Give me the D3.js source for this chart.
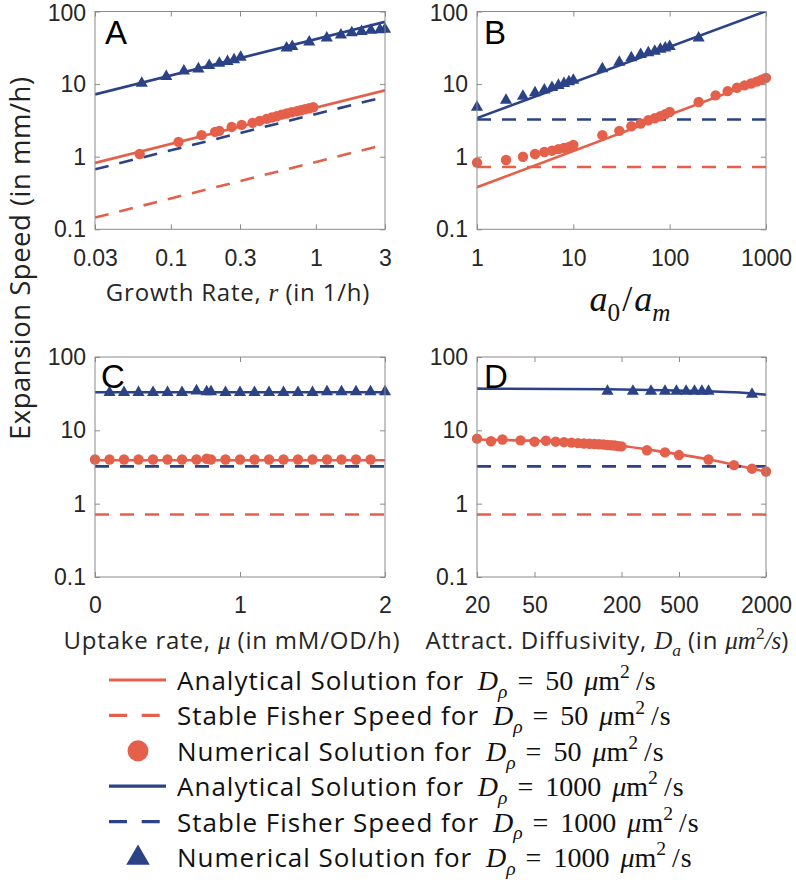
<!DOCTYPE html>
<html><head><meta charset="utf-8">
<script src="https://cdn.jsdelivr.net/npm/d3@7/dist/d3.min.js"></script>
<style>body{margin:0;background:#fff}svg{display:block}</style>
</head><body>
<svg id="chart" width="796" height="880"></svg>
<script>
// ---------------- DATA ----------------
const yTicks = [0.1, 1, 10, 100];
const yTickLabels = ["0.1", "1", "10", "100"];

// Panel A : growth rate
const A_xTicks = [0.03, 0.1, 0.3, 1, 3];
const A_xTickLabels = ["0.03", "0.1", "0.3", "1", "3"];
const A_lineX = [0.03, 3];
const A_anaRed = [0.82, 8.2];
const A_anaBlue = [7.2, 72];
const A_fisherRed = [0.145, 1.47];
const A_fisherBlue = [0.67, 6.7];
const A_numRedX = [0.061,0.113,0.163,0.202,0.216,0.263,0.308,0.366,0.41,0.458,0.496,0.537,0.581,0.629,0.68,0.74,0.787,0.84,0.90,0.96];
const A_numRedY = [1.09,1.6,1.98,2.2,2.27,2.57,2.74,2.92,3.11,3.32,3.46,3.61,3.80,3.93,4.09,4.22,4.36,4.5,4.65,4.8];
const A_numBlueX = [0.063,0.093,0.123,0.155,0.184,0.216,0.246,0.273,0.303,0.629,0.688,0.901,1.19,1.49,1.77,2.07,2.40,2.77,3.0];
const A_numBlueY = [10.3,12.7,15.1,16.2,18.0,19.4,20.5,21.6,23.4,31.5,33,38,43,47.5,51,53,55,56,57];

// Panel B : a0/am
const B_xTicks = [1, 10, 100, 1000];
const B_xTickLabels = ["1", "10", "100", "1000"];
const B_lineX = [1, 1000];
const B_anaRed = [0.38, 12];
const B_anaBlue = [3.4, 101];
const B_fisherRed = [0.72, 0.72];
const B_fisherBlue = [3.25, 3.25];
const B_numRedX = [1,2,3,4,5,6,7,8,9,10,20,30,40,50,60,70,80,90,100,200,300,400,500,600,700,800,900,1000];
const B_numRedY = [0.83,0.90,1.0,1.09,1.16,1.21,1.27,1.32,1.36,1.45,1.98,2.27,2.63,2.87,3.18,3.39,3.61,3.85,4.13,5.67,7.0,8.0,8.9,9.6,10.2,10.8,11.5,12.2];
const B_numBlueX = [1,2,3,4,5,6,7,8,9,10,20,30,40,50,60,70,80,90,100,200];
const B_numBlueY = [4.8,6.0,6.8,7.6,8.3,9.0,9.6,10.2,10.8,11.3,16.3,20,23,25.5,27,28.3,30.2,31.5,33,43];

// Panel C : uptake rate
const C_xTicks = [0, 1, 2];
const C_xTickLabels = ["0", "1", "2"];
const C_lineX = [0, 2];
const C_anaRed = [3.9, 3.9];
const C_anaBlue = [33, 33];
const C_fisherRed = [0.71, 0.71];
const C_fisherBlue = [3.23, 3.23];
const C_numRedX = [0,0.1,0.2,0.3,0.4,0.5,0.6,0.7,0.77,0.8,0.9,1.0,1.1,1.2,1.3,1.4,1.5,1.6,1.7,1.8,1.9];
const C_numRedY = [4.0,4.0,4.0,4.0,4.0,4.0,4.0,4.0,4.1,4.0,4.0,4.0,4.0,4.0,4.0,4.0,4.0,4.0,4.0,4.0,4.0];
const C_numBlueX = [0.1,0.2,0.3,0.4,0.5,0.6,0.7,0.77,0.8,0.9,1.0,1.1,1.2,1.3,1.4,1.5,1.6,1.7,1.8,1.9,2.0];
const C_numBlueY = [32.7,32.7,32.7,32.7,32.7,32.7,34.5,33.5,33.5,32.7,32.7,32.7,32.7,32.7,32.7,32.7,33.5,33.5,33.5,33.5,33.5];

// Panel D : attractant diffusivity
const D_xTicks = [20, 50, 200, 500, 2000];
const D_xTickLabels = ["20", "50", "200", "500", "2000"];
const D_lineX = [20, 2000];
const D_anaRedX = [20,50,100,200,300,500,800,1200,1600,2000];
const D_anaRedY = [7.5,7.2,6.8,6.1,5.5,4.7,4.0,3.4,3.0,2.75];
const D_anaBlueX = [20,160,400,800,1200,2000];
const D_anaBlueY = [37,36.3,35.2,34,33,30.7];
const D_fisherRed = [0.71, 0.71];
const D_fisherBlue = [3.23, 3.23];
const D_numRedX = [20,25,30,40,50,60,70,80,90,100,110,120,130,140,150,160,170,180,190,200,300,400,500,800,1200,1600,2000];
const D_numRedY = [7.7,7.1,7.5,7.3,7.0,7.2,7.0,6.9,6.8,6.7,6.6,6.55,6.5,6.45,6.4,6.3,6.25,6.2,6.1,6.05,5.35,5.0,4.6,4.0,3.35,3.0,2.75];
const D_numBlueX = [160,240,320,400,480,560,640,720,800,1600];
const D_numBlueY = [34,34,34,34,34,34,34,34,34,31];

const legendLabels = [
  "Analytical Solution for ", "Stable Fisher Speed for ", "Numerical Solution for ",
  "Analytical Solution for ", "Stable Fisher Speed for ", "Numerical Solution for "];
const legendD = ["50", "50", "50", "1000", "1000", "1000"];

// ---------------- STYLE / LAYOUT ----------------
const RED = "#E4604B", BLUE = "#2B4287";
const FRAME = "#8a8a8a", TXT = "#262626";
const SANS = "'Open Sans', sans-serif";
const TICKF = "'Liberation Sans', Arial, sans-serif";
const SERIF = "'Liberation Serif', 'DejaVu Serif', serif";
const zip = (xs, ys) => xs.map((x, i) => [x, ys[i]]);

const panels = [
  {id:"A", box:[95,385,11.5,229.3], xType:"log", xDom:[0.03,3], xt:A_xTicks, xl:A_xTickLabels,
   lines:[{p:zip(A_lineX,A_anaRed),c:RED},{p:zip(A_lineX,A_anaBlue),c:BLUE},
          {p:zip(A_lineX,A_fisherRed),c:RED,d:1},{p:zip(A_lineX,A_fisherBlue),c:BLUE,d:1}],
   circ:zip(A_numRedX,A_numRedY), tri:zip(A_numBlueX,A_numBlueY), letter:[105,44], topShift:2},
  {id:"B", box:[477,766,11.5,229.3], xType:"log", xDom:[1,1000], xt:B_xTicks, xl:B_xTickLabels,
   lines:[{p:zip(B_lineX,B_anaRed),c:RED},{p:zip(B_lineX,B_anaBlue),c:BLUE},
          {p:zip(B_lineX,B_fisherRed),c:RED,d:1},{p:zip(B_lineX,B_fisherBlue),c:BLUE,d:1}],
   circ:zip(B_numRedX,B_numRedY), tri:zip(B_numBlueX,B_numBlueY), letter:[484,44], topShift:2},
  {id:"C", box:[95,385,357,577], xType:"lin", xDom:[0,2], xt:C_xTicks, xl:C_xTickLabels,
   lines:[{p:zip(C_lineX,C_anaRed),c:RED},{p:zip(C_lineX,C_anaBlue),c:BLUE},
          {p:zip(C_lineX,C_fisherRed),c:RED,d:1},{p:zip(C_lineX,C_fisherBlue),c:BLUE,d:1}],
   circ:zip(C_numRedX,C_numRedY), tri:zip(C_numBlueX,C_numBlueY), letter:[101,388], topShift:0},
  {id:"D", box:[477,766,357,577], xType:"log", xDom:[20,2000], xt:D_xTicks, xl:D_xTickLabels,
   lines:[{p:zip(D_anaRedX,D_anaRedY),c:RED,curve:1},{p:zip(D_anaBlueX,D_anaBlueY),c:BLUE,curve:1},
          {p:zip(D_lineX,D_fisherRed),c:RED,d:1},{p:zip(D_lineX,D_fisherBlue),c:BLUE,d:1}],
   circ:zip(D_numRedX,D_numRedY), tri:zip(D_numBlueX,D_numBlueY), letter:[484,388], topShift:0}
];

const svg = d3.select("#chart");
const defs = svg.append("defs");

// rich text helper: segs = [{t, f:'sans'|'serif', i, s:'sub'|'sup', dx, ls}]
function rich(textSel, segs, size, serifSize) {
  let cur = 0;
  segs.forEach(sg => {
    const base = sg.f === "serif" ? (serifSize || size) : size;
    const target = sg.s === "sub" ? 0.28 * base : sg.s === "sup" ? -0.42 * base : 0;
    const ts = textSel.append("tspan").text(sg.t)
      .attr("font-family", sg.f === "serif" ? SERIF : SANS)
      .attr("font-style", sg.i ? "italic" : "normal")
      .attr("font-size", (sg.s ? 0.7 : 1) * base);
    if (sg.ls) ts.attr("letter-spacing", sg.ls);
    if (sg.dx) ts.attr("dx", sg.dx);
    if (target !== cur) ts.attr("dy", target - cur);
    cur = target;
  });
}

panels.forEach(P => {
  const [x0, x1, y0, y1] = P.box;
  const x = (P.xType === "log" ? d3.scaleLog() : d3.scaleLinear()).domain(P.xDom).range([x0, x1]);
  const y = d3.scaleLog().domain([0.1, 100]).range([y1, y0]);
  const g = svg.append("g");

  defs.append("clipPath").attr("id", "clip" + P.id)
    .append("rect").attr("x", x0).attr("y", y0).attr("width", x1 - x0).attr("height", y1 - y0);

  const styleAxis = sel => {
    sel.select(".domain").remove();
    sel.selectAll(".tick line").attr("stroke", FRAME);
    sel.selectAll(".tick text").attr("fill", TXT).attr("font-family", TICKF).attr("font-size", 23);
  };
  g.append("g").attr("transform", `translate(0,${y1})`)
    .call(d3.axisBottom(x).tickValues(P.xt).tickFormat((d, i) => P.xl[i]).tickSizeInner(-5).tickSizeOuter(0).tickPadding(20))
    .call(styleAxis);
  g.append("g").attr("transform", `translate(0,${y0})`)
    .call(d3.axisTop(x).tickValues(P.xt).tickFormat("").tickSizeInner(-5).tickSizeOuter(0)).call(styleAxis);
  g.append("g").attr("transform", `translate(${x0},0)`)
    .call(d3.axisLeft(y).tickValues(yTicks).tickFormat((d, i) => yTickLabels[i]).tickSizeInner(-5).tickSizeOuter(0).tickPadding(9))
    .call(styleAxis)
    .call(sel => sel.selectAll(".tick text").filter(d => d === 100).attr("y", P.topShift));
  g.append("g").attr("transform", `translate(${x1},0)`)
    .call(d3.axisRight(y).tickValues(yTicks).tickFormat("").tickSizeInner(-5).tickSizeOuter(0)).call(styleAxis);

  const lg = g.append("g").attr("clip-path", `url(#clip${P.id})`);
  P.lines.forEach(L => {
    const gen = d3.line().x(d => x(d[0])).y(d => y(d[1]));
    if (L.curve) gen.curve(d3.curveMonotoneX);
    lg.append("path").attr("d", gen(L.p)).attr("fill", "none")
      .attr("stroke", L.c).attr("stroke-width", 2.6)
      .attr("stroke-dasharray", L.d ? "14,11" : null);
  });

  g.append("g").selectAll("circle").data(P.circ).join("circle")
    .attr("cx", d => x(d[0])).attr("cy", d => y(d[1])).attr("r", 5.2).attr("fill", RED);
  const tri = d3.symbol().type(d3.symbolTriangle).size(64);
  g.append("g").selectAll("path").data(P.tri).join("path")
    .attr("transform", d => `translate(${x(d[0])},${y(d[1])})`).attr("d", tri).attr("fill", BLUE);

  g.append("rect").attr("x", x0).attr("y", y0).attr("width", x1 - x0).attr("height", y1 - y0)
    .attr("fill", "none").attr("stroke", FRAME).attr("stroke-width", 1);

  g.append("text").attr("x", P.letter[0]).attr("y", P.letter[1]).text(P.id)
    .attr("font-family", TICKF).attr("font-size", 33).attr("fill", "#000");
});

// axis labels
const LS = 0.8;
rich(svg.append("text").attr("x", 238).attr("y", 301).attr("text-anchor", "middle").attr("fill", TXT),
  [{t:"Growth Rate, ", f:"sans", ls:LS}, {t:"r", f:"serif", i:1}, {t:" (in 1/h)", f:"sans", ls:LS}], 24, 25);
rich(svg.append("text").attr("x", 630).attr("y", 311).attr("text-anchor", "middle").attr("fill", "#111"),
  [{t:"a", f:"serif", i:1}, {t:"0", f:"serif", s:"sub"}, {t:"/", f:"serif", dx:2}, {t:"a", f:"serif", i:1, dx:2}, {t:"m", f:"serif", i:1, s:"sub"}], 36);
rich(svg.append("text").attr("x", 232).attr("y", 649).attr("text-anchor", "middle").attr("fill", TXT),
  [{t:"Uptake rate, ", f:"sans", ls:LS}, {t:"μ", f:"serif", i:1}, {t:" (in mM/OD/h)", f:"sans", ls:LS}], 24, 25);
rich(svg.append("text").attr("x", 607).attr("y", 649).attr("text-anchor", "middle").attr("fill", TXT),
  [{t:"Attract. Diffusivity, ", f:"sans", ls:LS}, {t:"D", f:"serif", i:1}, {t:"a", f:"serif", i:1, s:"sub"},
   {t:" (in ", f:"sans", ls:LS}, {t:"μm", f:"serif", i:1}, {t:"2", f:"serif", s:"sup"}, {t:"/s", f:"serif", i:1}, {t:")", f:"sans"}], 24, 25);

svg.append("text").attr("transform", "translate(29.5,440) rotate(-90)")
  .attr("font-family", SANS).attr("font-size", 27.5).attr("letter-spacing", 0.5).attr("fill", "#222")
  .text("Expansion Speed (in mm/h)");

// legend
const legendStyles = [
  {c:RED, k:"line"}, {c:RED, k:"dash"}, {c:RED, k:"circ"},
  {c:BLUE, k:"line"}, {c:BLUE, k:"dash"}, {c:BLUE, k:"tri"}];
const lgG = svg.append("g");
legendLabels.forEach((lab, i) => {
  const cy = 680 + i * 35.4;
  const st = legendStyles[i];
  if (st.k === "line" || st.k === "dash") {
    lgG.append("line").attr("x1", 109).attr("x2", 166).attr("y1", cy).attr("y2", cy)
      .attr("stroke", st.c).attr("stroke-width", 3.2)
      .attr("stroke-dasharray", st.k === "dash" ? "18,14.7" : null);
  } else if (st.k === "circ") {
    lgG.append("circle").attr("cx", 138).attr("cy", cy).attr("r", 10.5).attr("fill", st.c);
  } else {
    lgG.append("path").attr("transform", `translate(138,${cy + 1})`)
      .attr("d", d3.symbol().type(d3.symbolTriangle).size(240)()).attr("fill", st.c);
  }
  const t = lgG.append("text").attr("x", 177).attr("y", cy + 10).attr("fill", "#111");
  rich(t, [{t:lab, f:"sans", ls:1}, {t:"D", f:"serif", i:1, dx:6}, {t:"ρ", f:"serif", i:1, s:"sub"},
           {t:"=", f:"serif", dx:10}, {t:legendD[i], f:"serif", dx:12}, {t:"μ", f:"serif", i:1, dx:11},
           {t:"m", f:"serif"}, {t:"2", f:"serif", s:"sup"}, {t:"/", f:"serif", dx:6}, {t:"s", f:"serif", dx:1}], 26, 28);
});
</script>
</body></html>
